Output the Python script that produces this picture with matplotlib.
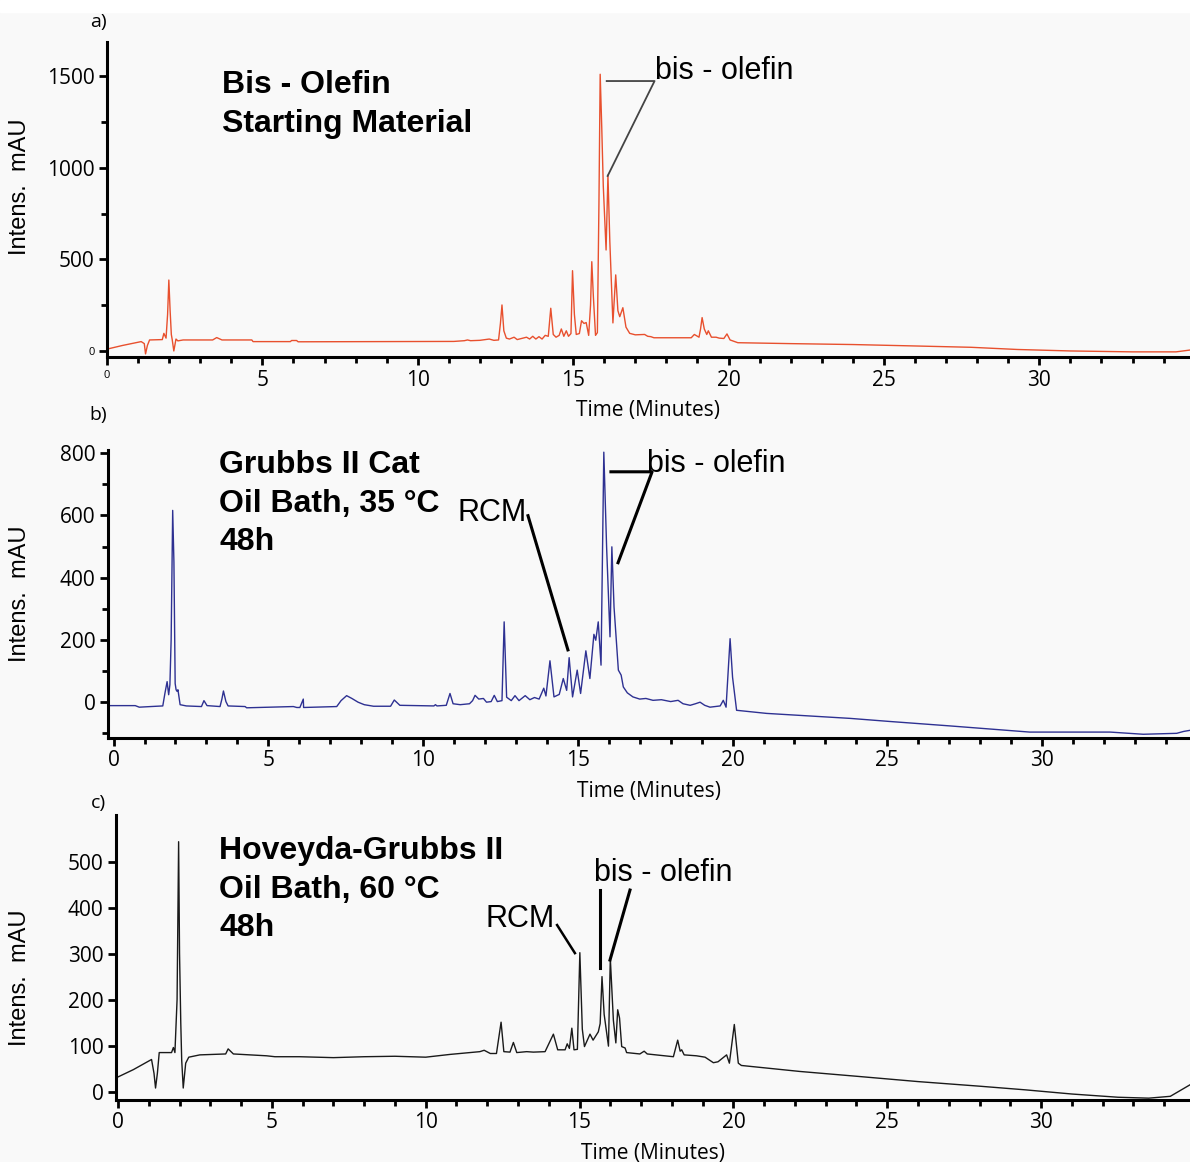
import numpy as np
import matplotlib
matplotlib.use("Agg")
import matplotlib.pyplot as plt
from matplotlib.patches import Rectangle
from matplotlib.ticker import MultipleLocator

# chromatogram vertices: (time in min, intensity in mAU)
trace_a = [(0, 10), (0.5, 30), (1.1, 51), (1.2, 40), (1.24, -16), (1.3, 30), (1.37, 60),
           (1.78, 62), (1.83, 96), (1.9, 70), (1.95, 200), (1.99, 387), (2.03, 224),
           (2.07, 90), (2.1, 60), (2.15, 0), (2.22, 65), (2.28, 55), (2.45, 60), (3.4, 60),
           (3.53, 73), (3.7, 60), (4.66, 60), (4.7, 51), (5.9, 51), (5.94, 57), (6.1, 57),
           (6.15, 50), (11.16, 52), (11.5, 56), (11.6, 60), (11.7, 56), (12.0, 58), (12.3, 65),
           (12.45, 58), (12.6, 60), (12.66, 150), (12.71, 251), (12.77, 110), (12.85, 70),
           (12.95, 65), (13.1, 75), (13.2, 62), (13.5, 75), (13.6, 65), (13.7, 80), (13.8, 65),
           (13.9, 78), (14.0, 65), (14.1, 85), (14.2, 80), (14.28, 233), (14.36, 90),
           (14.45, 75), (14.55, 85), (14.62, 120), (14.7, 80), (14.78, 110), (14.85, 80),
           (14.93, 95), (14.98, 438), (15.04, 200), (15.1, 90), (15.2, 95), (15.27, 165),
           (15.35, 150), (15.42, 155), (15.5, 85), (15.56, 250), (15.6, 487), (15.65, 300),
           (15.72, 85), (15.78, 100), (15.83, 800), (15.87, 1510), (15.92, 1224), (15.97, 900),
           (16.06, 551), (16.12, 960), (16.18, 600), (16.28, 153), (16.37, 415), (16.44, 220),
           (16.5, 187), (16.6, 236), (16.7, 130), (16.82, 96), (17.0, 88), (17.3, 90),
           (17.4, 80), (17.5, 78), (17.6, 72), (18.0, 72), (18.8, 72), (18.9, 90), (19.05, 75),
           (19.1, 120), (19.15, 182), (19.22, 120), (19.3, 90), (19.35, 110), (19.45, 75),
           (19.6, 75), (19.7, 70), (19.85, 68), (19.95, 93), (20.05, 60), (20.3, 45), (22, 40),
           (24, 35), (25.8, 28), (27.8, 20), (29.3, 8), (31, 0), (33, -5), (34.4, -5), (34.85, 5)]

trace_b = [(-0.18, -11), (0.7, -11), (0.83, -16), (1.2, -14), (1.59, -12), (1.66, 29),
           (1.73, 66), (1.78, 24), (1.82, 56), (1.86, 200), (1.91, 616), (1.95, 450),
           (1.99, 60), (2.02, 40), (2.05, 35), (2.08, 40), (2.15, -8), (2.35, -12), (2.84, -14),
           (2.92, 5), (3.02, -11), (3.44, -14), (3.5, 10), (3.55, 36), (3.63, 2), (3.7, -12),
           (4.25, -14), (4.3, -18), (5.81, -14), (5.92, -17), (6.02, -17), (6.13, 10),
           (6.14, -17), (7.21, -14), (7.35, 5), (7.53, 21), (7.7, 12), (7.9, 0), (8.1, -8),
           (8.4, -13), (8.95, -13), (9.07, 7), (9.25, -10), (10.35, -12), (10.4, -8),
           (10.45, -12), (10.75, -10), (10.87, 28), (10.97, -5), (11.2, -8), (11.5, -5),
           (11.6, 5), (11.68, 22), (11.8, 10), (11.95, 12), (12.05, 0), (12.2, 2), (12.3, 22),
           (12.4, 2), (12.55, 5), (12.62, 258), (12.7, 16), (12.85, 5), (12.97, 21), (13.1, 5),
           (13.3, 21), (13.45, 8), (13.6, 15), (13.75, 10), (13.9, 45), (13.97, 20),
           (14.1, 133), (14.23, 17), (14.4, 25), (14.53, 76), (14.64, 38), (14.72, 143),
           (14.83, 17), (14.98, 103), (15.09, 28), (15.26, 165), (15.39, 76), (15.52, 218),
           (15.58, 199), (15.66, 258), (15.75, 119), (15.84, 803), (15.93, 499), (16.04, 210),
           (16.1, 499), (16.17, 306), (16.31, 103), (16.4, 87), (16.47, 49), (16.6, 30),
           (16.78, 17), (17.0, 10), (17.2, 12), (17.43, 6), (17.7, 8), (18.0, 2), (18.24, 6),
           (18.4, -5), (18.63, -10), (18.8, -5), (18.95, 0), (19.1, -10), (19.27, -16),
           (19.6, -12), (19.7, 6), (19.79, -16), (19.92, 204), (20.0, 80), (20.13, -26),
           (21.1, -36), (23.8, -52), (25.09, -62), (27, -76), (29.6, -96), (32.2, -96),
           (33.27, -103), (34.35, -100), (34.57, -94), (34.8, -90)]

trace_c = [(-0.065, 30), (0.5, 48), (1.09, 70), (1.17, 40), (1.22, 8), (1.28, 40), (1.34, 85),
           (1.74, 85), (1.8, 96), (1.85, 85), (1.92, 200), (1.97, 543), (2.0, 300), (2.04, 150),
           (2.07, 69), (2.12, 8), (2.2, 62), (2.3, 75), (2.66, 80), (3.5, 82), (3.58, 93),
           (3.75, 82), (4.83, 78), (5.1, 76), (5.9, 76), (7, 74), (8, 76), (9, 77), (10, 75),
           (10.79, 81), (11.76, 87), (11.9, 90), (12.1, 83), (12.3, 83), (12.45, 151),
           (12.54, 87), (12.74, 86), (12.85, 107), (12.96, 85), (13.28, 87), (13.5, 86),
           (13.88, 87), (14.15, 125), (14.2, 113), (14.29, 91), (14.53, 91), (14.6, 104),
           (14.67, 94), (14.75, 138), (14.82, 91), (14.93, 92), (15.01, 302), (15.09, 136),
           (15.16, 98), (15.34, 125), (15.44, 112), (15.61, 130), (15.67, 148), (15.73, 250),
           (15.8, 168), (15.94, 99), (16.0, 290), (16.1, 155), (16.18, 106), (16.24, 178),
           (16.3, 160), (16.37, 98), (16.48, 95), (16.53, 85), (16.96, 82), (17.1, 88),
           (17.2, 82), (18.05, 76), (18.19, 112), (18.27, 88), (18.32, 91), (18.4, 80),
           (18.8, 78), (19.08, 75), (19.35, 63), (19.5, 65), (19.78, 80), (19.87, 62),
           (20.03, 146), (20.16, 62), (20.26, 57), (22.16, 44), (24.1, 33), (26, 22), (28, 12),
           (29.5, 4), (31, -5), (32.5, -12), (33.5, -14), (34.2, -10), (34.84, 15)]

titles = ["Bis - Olefin\nStarting Material",
          "Grubbs II Cat\nOil Bath, 35 \u00b0C\n48h",
          "Hoveyda-Grubbs II\nOil Bath, 60 \u00b0C\n48h"]
panel_tags = ["a)", "b)", "c)"]
colors = ["#e8502e", "#2e3192", "#1a1a1a"]
xlims = [(0, 34.85), (-0.18, 34.78), (-0.065, 34.84)]
ylims = [(-33, 1686), (-115, 810), (-18, 601)]
yticks = [[0, 500, 1000, 1500], [0, 200, 400, 600, 800], [0, 100, 200, 300, 400, 500]]
yminor = [250, 100, None]
xticks = [0, 5, 10, 15, 20, 25, 30]

# axes boxes in pixels of the 1190x1162 picture: left, top, bottom
W, H = 1190, 1162
boxes = [(107, 42, 357), (108, 450, 738), (116, 815, 1100)]
title_pos = [(222, 70), (219, 450), (219, 836)]
tag_pos = [(98, 22), (98, 415), (98, 803)]
ylabel_frac = [0.54, 0.5, 0.43]

fig = plt.figure(figsize=(W / 100, H / 100), dpi=100, facecolor="#f9f9f9")
fig.patches.append(Rectangle((0, 1 - 12 / H), 1, 12 / H, transform=fig.transFigure,
                             color="white", zorder=0))

traces = [trace_a, trace_b, trace_c]
axes = []
for k in range(3):
    left, top, bot = boxes[k]
    ax = fig.add_axes([left / W, 1 - bot / H, 1 - left / W, (bot - top) / H])
    ax.set_facecolor("none")
    pts = np.array(traces[k])
    ax.plot(pts[:, 0], pts[:, 1], color=colors[k], lw=1.0)
    ax.set_xlim(*xlims[k])
    ax.set_ylim(*ylims[k])
    for s in ["top", "right"]:
        ax.spines[s].set_visible(False)
    for s in ["left", "bottom"]:
        ax.spines[s].set_linewidth(2.2)
    ax.set_xticks(xticks, labels=[str(v) for v in xticks])
    ax.set_yticks(yticks[k], labels=[str(v) for v in yticks[k]])
    ax.xaxis.set_minor_locator(MultipleLocator(1))
    if yminor[k]:
        ax.yaxis.set_minor_locator(MultipleLocator(yminor[k]))
    ax.tick_params(which="major", direction="out", length=6, width=2, labelsize=15, pad=3)
    ax.tick_params(which="minor", direction="out", length=4, width=2)
    for lab in ax.get_xticklabels() + ax.get_yticklabels():
        lab.set_fontfamily("Open Sans")
    ax.set_xlabel("Time (Minutes)", fontsize=15, family="Open Sans", labelpad=7)
    ax.set_ylabel("Intens.  mAU", fontsize=17, family="Liberation Sans")
    ax.yaxis.set_label_coords(-(left - 31) / (W - left), ylabel_frac[k])
    fig.text(title_pos[k][0] / W, 1 - title_pos[k][1] / H, titles[k], ha="left", va="top",
             fontsize=23, fontweight="bold", family="Liberation Sans", linespacing=1.38)
    fig.text(tag_pos[k][0] / W, 1 - tag_pos[k][1] / H, panel_tags[k], ha="center",
             va="center", fontsize=14, family="Open Sans")
    axes.append(ax)

# small zero labels in the first panel
axes[0].get_xticklabels()[0].set_fontsize(8)
axes[0].get_yticklabels()[0].set_fontsize(8)

# peak labels and leader lines
ax = axes[0]
ax.text(17.62, 1530, "bis - olefin", fontsize=22, family="Liberation Sans", va="center")
ax.plot([16.08, 17.62, 16.11], [1473, 1473, 955], color="#444444", lw=1.3, clip_on=False)

ax = axes[1]
ax.text(17.25, 765, "bis - olefin", fontsize=22, family="Liberation Sans", va="center")
ax.plot([16.07, 17.4, 16.3], [740, 740, 448], color="black", lw=2.2, clip_on=False)
ax.text(11.1, 608, "RCM", fontsize=22, family="Liberation Sans", va="center")
ax.plot([13.39, 14.68], [599, 168], color="black", lw=2.2)

ax = axes[2]
ax.text(15.48, 474, "bis - olefin", fontsize=22, family="Liberation Sans", va="center")
ax.plot([15.66, 15.66], [438, 269], color="black", lw=2.2)
ax.plot([16.64, 15.99], [438, 286], color="black", lw=2.2)
ax.text(11.95, 376, "RCM", fontsize=22, family="Liberation Sans", va="center")
ax.plot([14.27, 14.85], [362, 301], color="black", lw=1.8)

fig.savefig("out.png", dpi=100, facecolor=fig.get_facecolor())
